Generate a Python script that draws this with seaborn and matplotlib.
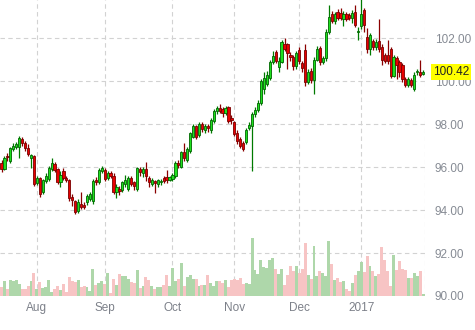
import matplotlib
matplotlib.use("Agg")
import matplotlib.pyplot as plt
from matplotlib.ticker import FormatStrFormatter
import pandas as pd
import seaborn as sns

# daily OHLC (mid-Jul 2016 .. early Feb 2017)
opens = [96.20, 95.90, 96.50, 96.30, 96.85, 96.95, 96.95, 97.30, 97.10, 96.90,
         96.40, 96.50, 95.25, 95.50, 94.85, 95.35, 95.45, 95.90, 96.15, 95.90,
         95.30, 95.80, 95.50, 95.40, 94.60, 94.40, 93.95, 94.30, 94.25, 94.35,
         94.50, 94.40, 95.40, 95.30, 95.80, 95.85, 95.50, 95.70, 95.60, 94.85,
         95.00, 94.95, 95.20, 95.00, 95.50, 95.30, 95.00, 95.90, 95.70, 95.90,
         95.50, 95.20, 95.35, 95.20, 95.30, 95.50, 95.55, 95.40, 95.45, 95.60,
         96.20, 96.00, 96.70, 96.35, 96.75, 97.40, 97.90, 97.50, 98.00, 97.70,
         97.90, 97.70, 98.15, 98.60, 98.75, 98.70, 98.50, 98.80, 98.30, 98.10,
         97.60, 97.30, 97.10, 97.15, 97.80, 97.90, 98.45, 98.65, 99.00, 99.65,
         99.85, 100.15, 100.90, 101.35, 100.65, 100.90, 101.70, 101.70, 101.20, 101.10,
         100.70, 101.45, 100.85, 101.45, 99.95, 100.45, 100.05, 101.00, 101.55, 100.90,
         101.05, 102.30, 103.10, 102.80, 103.20, 103.15, 102.90, 103.10, 103.05, 102.95,
         103.20, 102.30, 102.55, 103.30, 102.05, 101.50, 101.85, 101.60, 101.85, 101.60,
         101.20, 101.20, 101.50, 100.25, 101.05, 100.90, 100.75, 100.10, 99.80, 100.05,
         99.65, 100.42, 100.40, 100.35]
closes = [95.90, 96.40, 96.45, 96.90, 97.00, 97.05, 97.35, 97.10, 96.90, 96.60,
          96.55, 95.20, 95.50, 94.75, 95.40, 95.60, 95.95, 96.20, 95.85, 95.30,
          95.65, 95.50, 95.40, 94.55, 94.45, 93.90, 94.35, 94.15, 94.15, 94.65,
          94.75, 95.35, 95.30, 95.85, 95.95, 95.45, 95.70, 95.60, 94.85, 95.05,
          94.90, 95.30, 95.40, 95.50, 95.20, 95.10, 95.95, 95.75, 95.90, 95.60,
          95.30, 95.40, 95.25, 95.40, 95.35, 95.35, 95.40, 95.55, 95.65, 96.20,
          96.10, 96.70, 96.40, 96.85, 97.60, 97.90, 97.40, 98.00, 97.75, 97.90,
          97.80, 98.20, 98.60, 98.75, 98.60, 98.50, 98.75, 98.15, 98.20, 97.55,
          97.20, 97.00, 96.85, 97.70, 97.95, 98.45, 98.65, 99.00, 100.00, 100.15,
          100.30, 100.90, 101.15, 100.95, 100.95, 101.80, 101.50, 101.30, 101.10, 100.70,
          101.30, 100.95, 100.60, 99.95, 100.40, 100.05, 101.00, 101.50, 100.90, 101.05,
          102.30, 103.00, 102.80, 103.10, 102.95, 102.95, 103.10, 102.90, 102.95, 103.15,
          102.60, 102.35, 103.10, 102.60, 101.50, 102.15, 101.60, 101.80, 101.50, 101.00,
          100.95, 100.95, 100.25, 101.10, 100.75, 100.40, 100.10, 99.80, 100.10, 99.80,
          100.30, 100.46, 100.30, 100.42]
highs = [96.35, 96.50, 96.65, 96.95, 97.10, 97.15, 97.45, 97.40, 97.20, 97.05,
         96.60, 96.55, 95.60, 95.55, 95.45, 95.70, 96.05, 96.40, 96.25, 95.95,
         95.80, 95.95, 95.60, 95.45, 94.75, 94.45, 94.50, 94.85, 94.35, 94.75,
         94.85, 95.45, 95.55, 95.95, 96.05, 95.95, 95.80, 95.80, 95.70, 95.20,
         95.10, 95.35, 95.65, 95.60, 95.60, 95.35, 96.00, 96.00, 96.00, 96.25,
         95.60, 95.50, 95.40, 95.45, 95.45, 95.60, 95.85, 95.60, 95.70, 96.30,
         96.35, 96.75, 97.10, 96.95, 97.65, 98.00, 97.95, 98.10, 98.10, 98.00,
         98.00, 98.30, 98.70, 98.85, 98.95, 98.80, 98.85, 98.85, 98.40, 98.15,
         97.70, 97.40, 97.20, 97.80, 98.10, 98.55, 98.80, 99.10, 100.10, 100.40,
         100.45, 101.00, 101.40, 101.45, 101.10, 101.90, 102.00, 101.75, 101.35, 101.20,
         101.40, 101.60, 100.95, 101.70, 100.55, 100.60, 101.10, 101.65, 101.65, 101.15,
         102.40, 103.55, 103.25, 103.20, 103.35, 103.40, 103.25, 103.20, 103.15, 103.30,
         103.55, 102.50, 103.80, 103.40, 102.45, 102.25, 101.95, 101.95, 102.90, 101.70,
         101.30, 101.90, 101.60, 101.20, 101.15, 101.00, 100.85, 100.20, 100.20, 100.15,
         100.40, 100.55, 101.00, 100.50]
lows = [95.75, 95.85, 96.30, 96.20, 96.75, 96.85, 96.40, 97.00, 96.75, 96.50,
        95.95, 95.10, 95.15, 94.60, 94.75, 95.25, 95.35, 95.80, 95.75, 95.20,
        95.05, 95.40, 95.30, 94.40, 94.20, 93.80, 93.85, 94.05, 94.05, 94.25,
        94.40, 94.30, 95.15, 95.20, 95.70, 95.35, 95.40, 95.50, 94.75, 94.55,
        94.70, 94.85, 95.05, 94.90, 95.10, 94.95, 94.90, 95.60, 95.55, 95.35,
        95.05, 95.10, 94.80, 95.05, 95.15, 95.25, 95.25, 95.35, 95.35, 95.50,
        95.95, 95.95, 96.30, 96.25, 96.65, 97.35, 97.30, 97.40, 97.65, 97.60,
        97.65, 97.60, 98.05, 98.45, 98.50, 98.35, 98.40, 98.05, 98.00, 97.45,
        97.05, 96.90, 96.75, 97.05, 97.70, 95.80, 98.35, 98.55, 98.90, 99.40,
        99.75, 100.05, 100.80, 100.85, 100.40, 100.85, 101.40, 100.55, 100.95, 100.50,
        100.55, 100.80, 100.40, 99.75, 99.85, 99.90, 99.40, 100.95, 100.75, 100.80,
        100.95, 102.20, 102.70, 102.65, 102.85, 102.85, 102.55, 102.80, 102.85, 102.70,
        102.50, 101.90, 102.40, 102.30, 101.30, 101.20, 101.45, 101.45, 101.35, 100.75,
        100.85, 100.80, 100.15, 100.20, 100.10, 100.20, 99.95, 99.70, 99.70, 99.70,
        99.55, 100.30, 100.20, 100.30]
volume = [9, 15, 7, 16, 15, 16, 12, 7, 7, 10,
          15, 23, 7, 14, 8, 9, 16, 4, 7, 10,
          6, 12, 4, 19, 15, 14, 16, 9, 10, 9,
          5, 27, 11, 13, 15, 12, 23, 3, 17, 11,
          22, 20, 20, 17, 14, 13, 26, 8, 10, 19,
          16, 10, 7, 9, 9, 11, 21, 10, 28, 15,
          17, 33, 10, 19, 21, 17, 17, 10, 11, 11,
          21, 13, 10, 15, 15, 13, 16, 9, 16, 17,
          16, 18, 12, 13, 12, 58, 26, 22, 36, 29,
          28, 36, 38, 27, 22, 27, 11, 21, 30, 25,
          30, 23, 27, 53, 21, 17, 50, 20, 25, 23,
          20, 55, 32, 16, 18, 14, 15, 7, 5, 13,
          21, 25, 34, 24, 40, 30, 25, 20, 22, 49,
          36, 25, 10, 41, 26, 35, 27, 26, 18, 18,
          23, 20, 25, 2]

month_labels = ["Aug", "Sep", "Oct", "Nov", "Dec", "2017"]
month_pos = [12, 35, 58, 79, 101, 122]
price_ticks = [90, 92, 94, 96, 98, 100, 102]
last_price = 100.42

sns.set_style("white")
plt.rcParams["font.family"] = ["Liberation Sans", "DejaVu Sans"]

df = pd.DataFrame({"open": opens, "close": closes, "high": highs,
                   "low": lows, "volume": volume})
df["idx"] = range(len(df))
df["dir"] = ["up" if c >= o else "down" for o, c in zip(df["open"], df["close"])]

fig = plt.figure(figsize=(4.75, 3.3), dpi=100)
ax = fig.add_axes([0, 34 / 330, 425 / 475, 296 / 330])
ax2 = ax.twinx()

# volume on the twin axis, sits at the bottom of the price panel
sns.barplot(data=df, x="idx", y="volume", hue="dir",
            palette={"up": "#a8dea2", "down": "#ffbcbc"},
            native_scale=True, width=1.0, dodge=False, errorbar=None,
            linewidth=0, legend=False, ax=ax2)
ax2.set_ylim(0, 296)
ax2.set_yticks([])
ax2.set_ylabel("")
for s in ax2.spines.values():
    s.set_visible(False)

# candles
up = df["dir"] == "up"
wick_col = ["#007a00" if u else "#8a0000" for u in up]
body_col = ["#1ee01e" if u else "#e80000" for u in up]
edge_col = ["#006400" if u else "#7a0000" for u in up]
ax.vlines(df["idx"], df["low"], df["high"], colors=wick_col, linewidth=0.9, zorder=2)
bottom = df[["open", "close"]].min(axis=1)
height = (df["close"] - df["open"]).abs().clip(lower=0.04)
ax.bar(df["idx"], height, bottom=bottom, width=0.75, color=body_col,
       edgecolor=edge_col, linewidth=0.6, zorder=3)

ax.set_xlim(-0.51, 143.66)
ax.set_ylim(90, 103.77)
ax.set_yticks(price_ticks)
ax.yaxis.set_major_formatter(FormatStrFormatter("%.2f"))
ax.yaxis.tick_right()
ax.set_xticks(month_pos)
ax.set_xticklabels(month_labels)
ax.tick_params(axis="y", length=0, pad=7, labelsize=8.5, labelcolor="#868b94")
ax.tick_params(axis="x", length=0, pad=4, labelsize=8.5, labelcolor="#7c8089")
ax.grid(True, color="#d2d2d2", linestyle=(0, (4, 3)), linewidth=0.8)
ax.axvline(143.5, color="#d2d2d2", linestyle=(0, (4, 3)), linewidth=0.8)
for s in ax.spines.values():
    s.set_visible(False)
ax.set_xlabel("")
ax.set_ylabel("")

ax.text(1.019, last_price, f"{last_price:.2f}", transform=ax.get_yaxis_transform(),
        ha="left", va="center", fontsize=8.5, color="#222222", clip_on=False,
        bbox=dict(facecolor="#ffff00", edgecolor="none", pad=1.2), zorder=10)

fig.savefig("out.png", dpi=100)
plt.close(fig)
